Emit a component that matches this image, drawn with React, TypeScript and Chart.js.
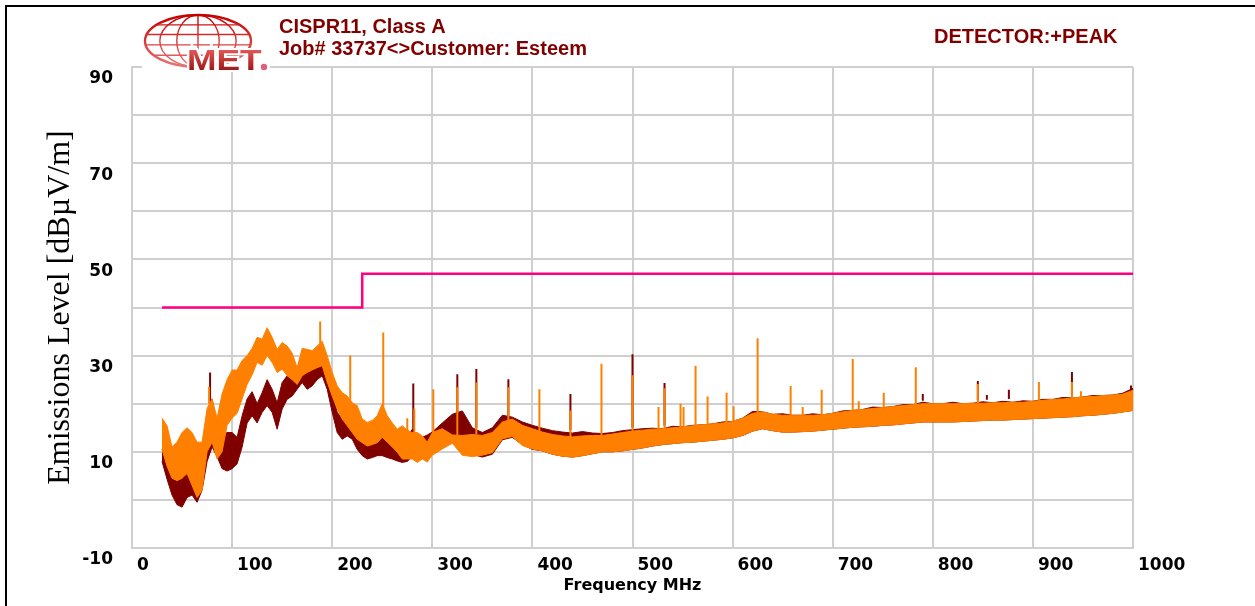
import { useEffect, useRef } from 'react';
import { Chart, registerables } from 'chart.js';

Chart.register(...registerables);

// Sweep frequencies (MHz) at which the trace envelopes are sampled
const freqMHz = [
  30, 35, 40, 45, 50, 55, 60, 65, 70, 75, 80, 85, 90, 95, 100, 105, 110, 115, 120, 125,
  130, 135, 140, 145, 150, 155, 160, 165, 170, 175, 180, 185, 190, 195, 200, 205, 210, 215, 220, 225,
  230, 235, 240, 245, 250, 255, 260, 265, 270, 275, 280, 285, 290, 295, 300,
  310, 320, 330, 340, 350, 360, 370, 380, 390, 400,
  410, 420, 430, 440, 450, 460, 470, 480, 490, 500,
  510, 520, 530, 540, 550, 560, 570, 580, 590, 600,
  610, 620, 630, 640, 650, 660, 670, 680, 690, 700,
  710, 720, 730, 740, 750, 760, 770, 780, 790, 800,
  810, 820, 830, 840, 850, 860, 870, 880, 890, 900,
  910, 920, 930, 940, 950, 960, 970, 980, 990, 1000,
];

// Orange sweep: upper / lower edge of the peak trace (dBµV/m)
const orangeUpper = [
  17, 15.4, 11, 12, 14, 15, 14, 12, 12, 19, 21, 17, 22, 25, 27, 27, 29, 30, 31.5, 33.8,
  33.4, 35.8, 33.8, 31.3, 32.7, 32, 30.5, 27.5, 31.5, 31.3, 31, 32, 33, 30, 26.5, 23.7, 22.3, 21.6, 20.2, 19.6,
  16.8, 16.1, 16.5, 17.5, 20, 17.5, 16, 14.7, 15.4, 14.5, 14, 14, 13.3, 12, 14,
  14.8, 13.5, 13.4, 13.6, 13.4, 14, 16.2, 16.8, 15.5, 14.8,
  14.1, 13.6, 13.3, 13.1, 13.3, 13.4, 13.4, 13.7, 14, 14.3,
  14.5, 14.7, 14.8, 15, 15.2, 15.4, 15.6, 15.8, 16, 16.3,
  17, 18, 18.3, 17.8, 17.6, 17.6, 17.6, 17.6, 17.7, 18,
  18.3, 18.6, 18.8, 19, 19.2, 19.4, 19.6, 19.8, 20, 20,
  20, 20, 20, 20.1, 20.1, 20.2, 20.2, 20.3, 20.3, 20.5,
  20.7, 20.9, 21, 21.2, 21.4, 21.5, 21.7, 21.8, 22, 22.8,
];
const orangeLower = [
  10.5, 7, 4.5, 4, 4.5, 5.5, 3, 0.5, 2, 10, 12, 8.5, 10, 15.5, 17, 18, 21, 24, 26, 28.6,
  28, 30, 28.6, 26.5, 27.2, 25.8, 25, 24, 25.8, 26.5, 27, 27.5, 27.9, 24.5, 21.6, 18.9, 16.8, 15.4, 14, 12.6,
  11.9, 11.2, 11.5, 11.9, 13, 12, 11, 9.9, 8.5, 8.5, 8.5, 7.8, 8.5, 7.9, 9.3,
  10.6, 11.8, 9.3, 9, 9.3, 9.8, 12.7, 13.2, 11.3, 10.6,
  10.2, 9.5, 9.1, 8.9, 9.2, 9.6, 10, 10, 10.2, 10.5,
  10.8, 11.2, 11.5, 11.7, 11.9, 12, 12.2, 12.4, 12.6, 12.9,
  13.4, 14.3, 14.8, 14.4, 14.1, 14.1, 14.2, 14.3, 14.5, 14.7,
  14.9, 15.1, 15.2, 15.3, 15.5, 15.6, 15.8, 16, 16.2, 16.2,
  16.2, 16.2, 16.3, 16.4, 16.5, 16.6, 16.6, 16.7, 16.8, 16.9,
  17, 17.1, 17.2, 17.3, 17.5, 17.6, 17.8, 18, 18.3, 18.6,
];

// Dark red sweep: upper / lower edge of the peak trace (dBµV/m)
const maroonUpper = [
  10.5, 8.5, 5, 4.5, 5.5, 7, 5.5, 4.5, 8, 16, 21, 15, 13.5, 14, 14, 13, 17.5, 21, 22.5, 20,
  22.3, 25, 23, 20.2, 24.4, 25.8, 25.1, 26.5, 27.9, 26.5, 27.2, 29, 30.6, 27, 22.3, 18.2, 16.8, 17.5, 15.4, 14,
  11.9, 12.6, 13, 13.3, 14, 13, 12.6, 12.6, 11.9, 13, 14.7, 13.5, 13, 13.5, 14.1,
  16, 17.8, 18.5, 15, 14, 15, 17.6, 17.2, 16.2, 15.5,
  14.9, 14.4, 14.1, 13.9, 14.2, 13.9, 13.8, 14, 14.4, 14.6,
  14.8, 14.9, 14.8, 15.3, 15.2, 15.5, 15.6, 15.8, 16.2, 16.3,
  17, 18.4, 18.3, 17.8, 17.9, 17.6, 17.6, 17.9, 17.7, 18,
  18.5, 18.6, 18.8, 19.3, 19.2, 19.4, 19.8, 19.8, 20.3, 20,
  20, 20.3, 20, 20.1, 20.4, 20.2, 20.5, 20.3, 20.6, 20.5,
  20.9, 20.9, 21.3, 21.2, 21.4, 21.7, 21.7, 21.8, 22.2, 23.2,
];
const maroonLower = [
  8, 4.3, 1, -1, -1.5, 0.5, 1, -0.5, 2, 8, 11, 9, 6.5, 6, 6.5, 7.5, 11, 16, 17.5, 16,
  18.2, 19.6, 18.2, 14.7, 18.9, 20.9, 21.6, 23, 24.4, 23, 23.7, 25, 25.8, 23, 18.2, 14, 12.6, 13.3, 12.6, 10.5,
  9.2, 8.5, 8.8, 9.2, 9.2, 8.8, 8.5, 8.1, 7.8, 8, 9, 9.3, 9.5, 10, 10.6,
  11, 12.5, 12, 9.5, 8.9, 9.5, 12.5, 13, 11.5, 10.5,
  10.2, 9.5, 9.1, 8.9, 9.2, 9.6, 10, 10, 10.2, 10.5,
  10.8, 11.2, 11.5, 11.7, 11.9, 12, 12.2, 12.4, 12.6, 12.9,
  13.4, 14.3, 14.8, 14.4, 14.1, 14.1, 14.2, 14.3, 14.5, 14.7,
  14.9, 15.1, 15.2, 15.3, 15.5, 15.6, 15.8, 16, 16.2, 16.2,
  16.2, 16.2, 16.3, 16.4, 16.5, 16.6, 16.6, 16.7, 16.8, 16.9,
  17, 17.1, 17.2, 17.3, 17.5, 17.6, 17.8, 18, 18.3, 18.6,
];

// Narrow emissions: [MHz, foot level, peak level]
const orangeSpikes: [number, number, number][] = [
  [77, 20, 23.5], [188, 32, 37.1], [218, 20, 30], [251, 19, 34.8], [275, 14, 17],
  [282, 14, 19], [301, 14, 23], [325, 13.5, 23.4], [344, 13.6, 24.4], [376, 16.5, 23.4],
  [407, 14, 23], [438, 13, 18.6], [469, 13.4, 28.3], [500, 14.3, 25.9], [526, 14.7, 19.3],
  [532, 14.8, 23.2], [548, 15, 20], [551, 15.2, 19.3], [563, 15.4, 27.9], [575, 15.6, 21.5],
  [594, 16, 22.3], [601, 16.3, 19.4], [625, 18, 33.6], [658, 17.6, 23.7], [670, 17.6, 19.3],
  [689, 17.7, 22.9], [720, 18.6, 29.3], [726, 18.7, 20.5], [751, 19.2, 22.3], [783, 19.8, 27.6],
  [845, 20.1, 24.1], [906, 20.6, 24.5], [939, 21.1, 24.5], [948, 21.3, 22.6],
];
const maroonSpikes: [number, number, number][] = [
  [78, 18, 26.5], [281, 14, 24.2], [325, 17.5, 26.1], [344, 15, 27.2], [376, 17, 25.1],
  [438, 14.5, 22], [500, 15, 30.3], [532, 15.4, 24.3], [790, 20.6, 22], [845, 20.7, 24.7],
  [854, 20.8, 21.8], [876, 21, 22.9], [939, 21.7, 26.6], [998, 22.6, 23.8],
];

// CISPR 11 Class A limit
const limitFreqMHz = [30, 230, 230, 1000];
const limitLevel = [40, 40, 47, 47];

const yLabelledTicks = [90, 70, 50, 30, 10, -10];
const titleLines = ['CISPR11, Class A', 'Job# 33737<>Customer: Esteem'];
const detectorText = 'DETECTOR:+PEAK';

const ORANGE = '#ff8000';
const MAROON = '#800000';
const LIMIT = '#ff0080';
const GRID = '#cfcfcf';
const HEADER = '#800000';

const toPoints = (ys: number[]) => freqMHz.map((f, i) => ({ x: f, y: ys[i] }));
const spikePoints = (list: [number, number, number][]) =>
  list.flatMap(([f, foot, top]) => [
    { x: f, y: foot },
    { x: f, y: top },
    { x: f, y: null as number | null },
  ]);

function drawLogo(ctx: CanvasRenderingContext2D) {
  const cx = 198;
  const cy = 41;
  const rx = 53;
  const ry = 26;
  ctx.save();
  ctx.fillStyle = '#ffffff';
  ctx.fillRect(142, 62, 128, 10);

  const grad = ctx.createLinearGradient(cx, cy - ry, cx, cy + ry);
  grad.addColorStop(0, '#c40000');
  grad.addColorStop(1, '#e87474');
  ctx.strokeStyle = grad;

  ctx.lineWidth = 2.4;
  ctx.beginPath();
  ctx.ellipse(cx, cy, rx, ry, 0, 0, Math.PI * 2);
  ctx.stroke();

  ctx.lineWidth = 1.4;
  for (const k of [0.72, 0.4]) {
    ctx.beginPath();
    ctx.ellipse(cx, cy, rx * k, ry, 0, 0, Math.PI * 2);
    ctx.stroke();
  }
  ctx.beginPath();
  ctx.moveTo(cx, cy - ry);
  ctx.lineTo(cx, cy + ry);
  ctx.stroke();
  for (const t of [-0.62, -0.25, 0.15, 0.55]) {
    const yy = cy + t * ry;
    const hw = rx * Math.sqrt(1 - t * t);
    ctx.beginPath();
    ctx.moveTo(cx - hw, yy);
    ctx.lineTo(cx + hw, yy);
    ctx.stroke();
  }

  ctx.save();
  ctx.translate(187, 70);
  ctx.scale(1.22, 1);
  ctx.font = 'bold 29px "Liberation Sans", Arial, sans-serif';
  ctx.lineWidth = 4;
  ctx.strokeStyle = '#ffffff';
  ctx.strokeText('MET', 0, 0);
  const mg = ctx.createLinearGradient(0, -21, 0, 0);
  mg.addColorStop(0, '#e45a5a');
  mg.addColorStop(1, '#a01818');
  ctx.fillStyle = mg;
  ctx.fillText('MET', 0, 0);
  ctx.restore();

  ctx.beginPath();
  ctx.arc(264, 67, 3.2, 0, Math.PI * 2);
  ctx.fillStyle = '#e0607a';
  ctx.fill();
  ctx.restore();
}

const decorPlugin = {
  id: 'decor',
  beforeDraw(chart: Chart) {
    const { ctx, width, height } = chart;
    ctx.save();
    ctx.fillStyle = '#ffffff';
    ctx.fillRect(0, 0, width, height);
    ctx.fillStyle = '#000000';
    ctx.fillRect(5, 5, 2, height - 5);
    ctx.fillRect(5, 5, width - 5, 2);
    ctx.restore();
  },
  afterDraw(chart: Chart) {
    const { ctx } = chart;
    drawLogo(ctx);
    ctx.save();
    ctx.fillStyle = HEADER;
    ctx.textBaseline = 'alphabetic';
    ctx.textAlign = 'left';
    ctx.font = 'bold 20px "Liberation Sans", Arial, sans-serif';
    ctx.fillText(titleLines[0], 279, 33);
    ctx.fillText(titleLines[1], 279, 55);
    ctx.fillText(detectorText, 934, 43);
    ctx.restore();
  },
};

const tickFont = { family: '"DejaVu Sans", sans-serif', size: 17, weight: 'bold' as const };

export default function App() {
  const canvasRef = useRef<HTMLCanvasElement>(null);

  useEffect(() => {
    const canvas = canvasRef.current;
    if (!canvas) return;
    const chart = new Chart(canvas, {
      type: 'line',
      data: {
        datasets: [
          {
            label: 'Limit',
            data: limitFreqMHz.map((f, i) => ({ x: f, y: limitLevel[i] })),
            borderColor: LIMIT,
            borderWidth: 2.5,
            fill: false,
          },
          {
            label: 'Orange peaks',
            data: spikePoints(orangeSpikes),
            borderColor: ORANGE,
            borderWidth: 2,
            spanGaps: false,
            fill: false,
          },
          {
            label: 'Orange upper',
            data: toPoints(orangeUpper),
            borderColor: ORANGE,
            backgroundColor: ORANGE,
            borderWidth: 1,
            fill: '+1',
          },
          {
            label: 'Orange lower',
            data: toPoints(orangeLower),
            borderColor: ORANGE,
            borderWidth: 1,
            fill: false,
          },
          {
            label: 'Maroon peaks',
            data: spikePoints(maroonSpikes),
            borderColor: MAROON,
            borderWidth: 2,
            spanGaps: false,
            fill: false,
          },
          {
            label: 'Maroon upper',
            data: toPoints(maroonUpper),
            borderColor: MAROON,
            backgroundColor: MAROON,
            borderWidth: 1,
            fill: '+1',
          },
          {
            label: 'Maroon lower',
            data: toPoints(maroonLower),
            borderColor: MAROON,
            borderWidth: 1,
            fill: false,
          },
        ],
      },
      options: {
        responsive: false,
        maintainAspectRatio: false,
        animation: false,
        devicePixelRatio: 1,
        layout: { padding: { left: 0, top: 67, right: 122, bottom: 0 } },
        elements: { point: { radius: 0 }, line: { tension: 0 } },
        plugins: { legend: { display: false }, tooltip: { enabled: false } },
        scales: {
          x: {
            type: 'linear',
            min: 0,
            max: 1000,
            afterFit: (s: any) => {
              s.height = 58;
            },
            grid: { color: GRID, lineWidth: 2, drawTicks: false },
            border: { color: GRID, width: 2 },
            ticks: {
              stepSize: 100,
              autoSkip: false,
              maxRotation: 0,
              align: 'start',
              labelOffset: 5,
              padding: 7,
              color: '#000000',
              font: tickFont,
              callback: (v: any) => String(Math.round(Number(v))),
            },
            title: {
              display: true,
              text: 'Frequency MHz',
              color: '#000000',
              font: { family: '"DejaVu Sans", sans-serif', size: 16, weight: 'bold' },
              padding: { top: 0, bottom: 11 },
            },
          },
          y: {
            type: 'linear',
            min: -10,
            max: 90,
            afterFit: (s: any) => {
              s.width = 132;
            },
            grid: { color: GRID, lineWidth: 2, drawTicks: false },
            border: { color: GRID, width: 2 },
            ticks: {
              stepSize: 10,
              autoSkip: false,
              padding: 19,
              labelOffset: 12,
              color: '#000000',
              font: tickFont,
              callback: (v: any) => {
                const n = Math.round(Number(v));
                return yLabelledTicks.includes(n) ? String(n) : '';
              },
            },
            title: {
              display: true,
              text: 'Emissions Level [dBµV/m]',
              color: '#000000',
              font: { family: '"Liberation Serif", "Times New Roman", serif', size: 32, weight: 'normal' },
              padding: { top: 41, bottom: 0 },
            },
          },
        },
      },
      plugins: [decorPlugin],
    } as any);
    return () => chart.destroy();
  }, []);

  return (
    <div style={{ position: 'fixed', left: 0, top: 0, width: 1255, height: 606, background: '#ffffff' }}>
      <canvas ref={canvasRef} width={1255} height={606} style={{ display: 'block' }} />
    </div>
  );
}
